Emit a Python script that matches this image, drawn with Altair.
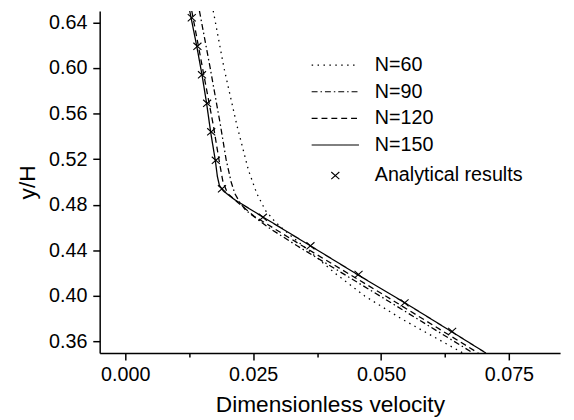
import altair as alt
import pandas as pd

# ---------------- data ----------------
series_names = ["N=60", "N=90", "N=120", "N=150"]

n60_y = [0.65, 0.60, 0.55, 0.51, 0.49, 0.475, 0.465, 0.455, 0.44, 0.42, 0.40, 0.38, 0.35]
n60_v = [0.0172, 0.0193, 0.0218, 0.0241, 0.0257, 0.0274, 0.0293, 0.0318, 0.0358, 0.0410, 0.0468, 0.0540, 0.0660]

n90_y = [0.65, 0.60, 0.55, 0.52, 0.50, 0.49, 0.482, 0.475, 0.46, 0.444, 0.40, 0.35]
n90_v = [0.0145, 0.0166, 0.0186, 0.0197, 0.0207, 0.0214, 0.0224, 0.0236, 0.0280, 0.0336, 0.0498, 0.0680]

n120_y = [0.65, 0.60, 0.55, 0.52, 0.50, 0.49, 0.482, 0.47, 0.444, 0.40, 0.35]
n120_v = [0.0130, 0.0151, 0.0172, 0.0183, 0.0191, 0.0200, 0.0220, 0.0252, 0.0346, 0.0509, 0.0690]

n150_y = [0.65, 0.6185, 0.594, 0.569, 0.5435, 0.519, 0.505, 0.497, 0.492, 0.485, 0.4696, 0.444, 0.4185, 0.3942, 0.3687, 0.35]
n150_v = [0.0126, 0.0140, 0.0150, 0.0159, 0.0167, 0.0176, 0.0180, 0.0184, 0.0192, 0.0212, 0.0268, 0.0362, 0.0455, 0.0546, 0.0638, 0.0705]

analytical_name = "Analytical results"
an_y = [0.369, 0.394, 0.419, 0.444, 0.469, 0.494, 0.519, 0.544, 0.569, 0.594, 0.619, 0.644]
an_v = [0.0639, 0.0546, 0.0456, 0.0362, 0.0269, 0.0189, 0.0177, 0.0168, 0.0160, 0.0150, 0.0141, 0.0130]

x_ticks = [0.0, 0.0125, 0.025, 0.0375, 0.05, 0.0625, 0.075]
y_ticks = [0.36, 0.38, 0.40, 0.42, 0.44, 0.46, 0.48, 0.50, 0.52, 0.54, 0.56, 0.58, 0.60, 0.62, 0.64]

# ---------------- tables ----------------
rows = []
for name, ys, vs in [("N=60", n60_y, n60_v), ("N=90", n90_y, n90_v),
                     ("N=120", n120_y, n120_v), ("N=150", n150_y, n150_v)]:
    for i, (yy, vv) in enumerate(zip(ys, vs)):
        rows.append({"series": name, "i": i, "y": yy, "v": vv})
lines_df = pd.DataFrame(rows)
an_df = pd.DataFrame({"series": [analytical_name] * len(an_y), "y": an_y, "v": an_v})

FONT = "Liberation Sans"

x_scale = alt.Scale(domain=[-0.005, 0.085], nice=False, zero=False)
y_scale = alt.Scale(domain=[0.35, 0.65], nice=False, zero=False)

common_axis = dict(
    grid=False, domainColor="black", domainWidth=1.5, tickColor="black", tickWidth=1.5,
    labelFont=FONT, labelColor="black", titleFont=FONT, titleColor="black",
    titleFontWeight="normal", labelOverlap=False, labelFlush=False,
)

x_axis = alt.Axis(
    values=x_ticks, title="Dimensionless velocity", titleFontSize=23, labelFontSize=20,
    labelExpr="round(datum.value*10000) % 250 == 0 ? format(datum.value, '.3f') : ''",
    tickSize={"condition": {"test": "round(datum.value*10000) % 250 == 0", "value": 7}, "value": 4},
    labelPadding=5, titlePadding=9, **common_axis,
)
y_axis = alt.Axis(
    values=y_ticks, title="y/H", titleFontSize=23, labelFontSize=20,
    labelExpr="round(datum.value*100) % 4 == 0 ? format(datum.value, '.2f') : ''",
    tickSize={"condition": {"test": "round(datum.value*100) % 4 == 0", "value": 7}, "value": 4},
    labelPadding=6, titlePadding=9, **common_axis,
)

line_legend = alt.Legend(
    title=None, orient="none", legendX=214, legendY=45, symbolType="stroke",
    symbolSize=2304, symbolStrokeWidth=1.2, symbolStrokeColor="black",
    clipHeight=20, rowPadding=7, labelFont=FONT, labelFontSize=20, labelColor="black",
    labelOffset=15, padding=0,
)

cross_path = "M-0.17,-0.15L0.17,0.15M0.17,-0.15L-0.17,0.15"

shape_legend = alt.Legend(
    title=None, orient="none", legendX=214, legendY=157,
    symbolSize=2304, symbolStrokeWidth=1.1, symbolStrokeColor="black", symbolFillColor="transparent",
    clipHeight=20, labelFont=FONT, labelFontSize=20, labelColor="black",
    labelOffset=15, padding=0,
)

lines = alt.Chart(lines_df).mark_line(color="black", strokeWidth=1.3, clip=True, strokeCap="butt").encode(
    x=alt.X("v:Q", scale=x_scale, axis=x_axis),
    y=alt.Y("y:Q", scale=y_scale, axis=y_axis),
    strokeDash=alt.StrokeDash(
        "series:N",
        scale=alt.Scale(domain=series_names, range=[[1.5, 4.5], [6, 3, 1.5, 3], [6, 4], [1, 0]]),
        legend=line_legend,
    ),
    order=alt.Order("i:Q"),
)

points = alt.Chart(an_df).mark_point(color="black", size=2304, strokeWidth=1.1, opacity=1, filled=False).encode(
    x=alt.X("v:Q", scale=x_scale),
    y=alt.Y("y:Q", scale=y_scale),
    shape=alt.Shape("series:N", scale=alt.Scale(domain=[analytical_name], range=[cross_path]), legend=shape_legend),
)

chart = alt.layer(lines, points).properties(
    width=467, height=347,
    padding={"left": 93, "top": 0, "right": 6, "bottom": 66},
    autosize=alt.AutoSizeParams(type="none"),
    background="white",
).configure_view(stroke="transparent")

chart.save("out.html", embed_options={"renderer": "svg", "actions": False})
